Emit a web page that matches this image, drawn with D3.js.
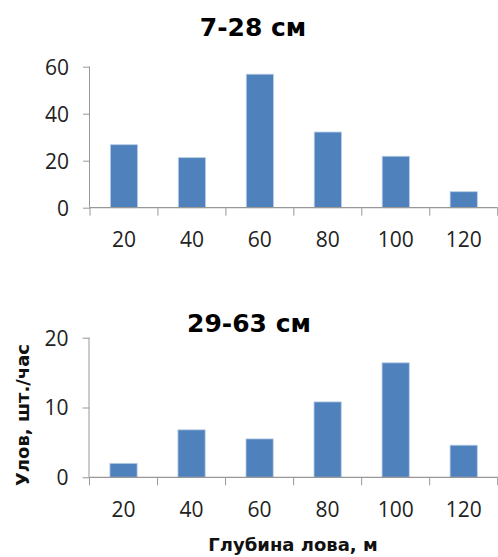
<!DOCTYPE html>
<html><head><meta charset="utf-8">
<script src="https://cdn.jsdelivr.net/npm/d3@7"></script>
<style>
html,body{margin:0;padding:0;background:#fff;}
svg{display:block;}
</style></head>
<body>
<script>
const depths = ["20","40","60","80","100","120"];
const small = [26.8, 21.3, 56.8, 32.2, 21.9, 6.8];
const large = [2.0, 6.8, 5.5, 10.8, 16.4, 4.6];
const smallTicks = [0, 20, 40, 60];
const largeTicks = [0, 10, 20];
const titles = ["7-28 см", "29-63 см"];
const xTitle = "Глубина лова, м";
const yTitle = "Улов, шт./час";

const W = 498, H = 557;
const svg = d3.select("body").append("svg").attr("width", W).attr("height", H);
const tickFont = "'Open Sans', sans-serif";
const boldFont = "'DejaVu Sans', sans-serif";
const axisColor = "#989898";
const barColor = "#4f81bd";

function panel(cfg) {
  const x = d3.scaleBand().domain(depths).range([cfg.left, 497.7]).paddingInner(0.6).paddingOuter(0.3);
  const y = d3.scaleLinear().domain([0, cfg.max]).range([cfg.bottom, cfg.top]);
  const g = svg.append("g");
  // bars
  g.selectAll("rect.bar").data(cfg.values).enter().append("rect")
    .attr("x", (d, i) => x(depths[i]))
    .attr("y", d => y(d))
    .attr("width", x.bandwidth())
    .attr("height", d => y(0) - y(d))
    .attr("fill", barColor)
    .attr("stroke", "#b9cde5")
    .attr("stroke-width", 0.8);
  // y axis
  const ya = g.append("g").attr("transform", `translate(${cfg.left},0)`)
    .call(d3.axisLeft(y).tickValues(cfg.ticks).tickSize(7).tickPadding(14).tickFormat(d3.format("d")));
  ya.select(".domain").attr("stroke", axisColor).attr("d", `M-0.5,${y(0)}V${y(cfg.max)}`);
  ya.selectAll(".tick line").attr("stroke", axisColor);
  ya.selectAll(".tick text").attr("font-family", tickFont).attr("font-size", 21).attr("fill", "#222").attr("dy", "0.35em");
  // x axis
  const x0 = x.range()[0], step = x.step();
  g.append("line").attr("x1", x0).attr("x2", x.range()[1]).attr("y1", y(0)).attr("y2", y(0))
    .attr("stroke", axisColor).attr("stroke-width", 1.2);
  g.selectAll("line.xt").data(d3.range(depths.length + 1)).enter().append("line")
    .attr("x1", i => x0 + i * step).attr("x2", i => x0 + i * step)
    .attr("y1", y(0)).attr("y2", y(0) + 8).attr("stroke", axisColor);
  g.selectAll("text.xl").data(depths).enter().append("text")
    .attr("x", d => x(d) + x.bandwidth() / 2)
    .attr("y", cfg.labelY)
    .attr("text-anchor", "middle")
    .attr("font-family", tickFont).attr("font-size", 21).attr("fill", "#222")
    .text(d => d);
  // title
  g.append("text").attr("x", cfg.titleX).attr("y", cfg.titleY).attr("text-anchor", "middle")
    .attr("font-family", boldFont).attr("font-weight", "bold").attr("font-size", 25).attr("fill", "#000")
    .text(cfg.title);
}

panel({values: small, ticks: smallTicks, max: 60, left: 90, top: 66.7, bottom: 207.7, labelY: 247, title: titles[0], titleX: 253, titleY: 36});
panel({values: large, ticks: largeTicks, max: 20, left: 89.5, top: 337.7, bottom: 477.3, labelY: 517, title: titles[1], titleX: 249, titleY: 331.5});

svg.append("text").attr("x", 293).attr("y", 551).attr("text-anchor", "middle")
  .attr("font-family", boldFont).attr("font-weight", "bold").attr("font-size", 18).attr("fill", "#111")
  .text(xTitle);
svg.append("text").attr("transform", "translate(29,415) rotate(-90)").attr("text-anchor", "middle")
  .attr("font-family", boldFont).attr("font-weight", "bold").attr("font-size", 18).attr("fill", "#111")
  .text(yTitle);
</script>
</body></html>
